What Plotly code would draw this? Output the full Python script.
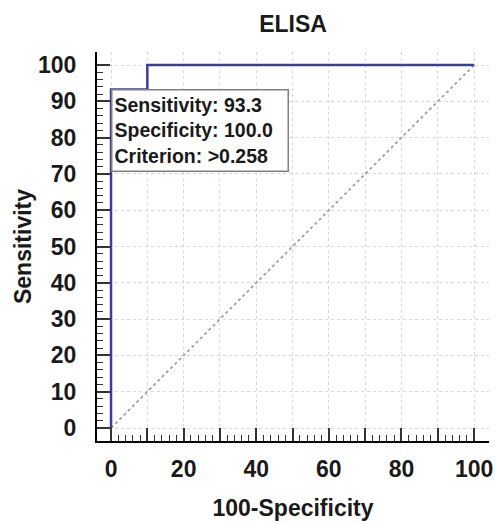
import plotly.graph_objects as go

# ROC curve data (100-Specificity vs Sensitivity)
fpr = [0, 0, 10, 10, 100]
tpr = [0, 93.3, 93.3, 100, 100]
ref_x = [0, 100]
ref_y = [0, 100]

x_ticks = list(range(0, 101, 10))
x_ticktext = [str(v) if v % 20 == 0 else "" for v in x_ticks]
y_ticks = list(range(0, 101, 10))
y_ticktext = [str(v) for v in y_ticks]
minor_vals = [v for v in range(0, 101, 2) if v % 10 != 0]

sensitivity = 93.3
specificity = 100.0
criterion = ">0.258"

FONT = "Liberation Sans, Arial, sans-serif"
TXT = "#1a1a1a"

fig = go.Figure()
fig.add_trace(go.Scatter(x=ref_x, y=ref_y, mode="lines",
                         line=dict(color="#a0a0a0", width=1.8, dash="dot"),
                         hoverinfo="skip", showlegend=False))
fig.add_trace(go.Scatter(x=fpr, y=tpr, mode="lines",
                         line=dict(color="#3c3c9c", width=2.5),
                         showlegend=False))

fig.add_annotation(
    x=0, y=sensitivity, xref="x", yref="y", xanchor="left", yanchor="top",
    text=(f"Sensitivity: {sensitivity:.1f}<br>Specificity: {specificity:.1f}"
          f"<br>Criterion: {criterion}"),
    showarrow=False, align="left", width=171, height=76,
    bgcolor="white", bordercolor="#808080", borderwidth=1.5, borderpad=2,
    font=dict(family=FONT, size=19.5, color=TXT, weight="bold"),
)

axis_common = dict(
    showline=True, linecolor="black", linewidth=2, mirror=False,
    ticks="inside", ticklen=13, tickwidth=1.5, tickcolor="#333",
    showgrid=True, gridcolor="#d8d8d8", griddash="dot", gridwidth=1,
    zeroline=False, automargin=False,
    tickfont=dict(family=FONT, size=23, color=TXT, weight="bold"),
    tickmode="array",
    minor=dict(tickmode="array", tickvals=minor_vals, ticks="inside",
               ticklen=6, tickwidth=1.2, tickcolor="#333", showgrid=False),
)

fig.update_xaxes(**axis_common, range=[-3.86, 104.1], tickvals=x_ticks,
                 ticktext=x_ticktext, ticklabelstandoff=6,
                 title=dict(text="100-Specificity", standoff=19,
                            font=dict(family=FONT, size=23, color=TXT,
                                      weight="bold")))
fig.update_yaxes(**axis_common, range=[-3.58, 103.6], tickvals=y_ticks,
                 ticktext=y_ticktext, ticklabelstandoff=14,
                 title=dict(text="Sensitivity", standoff=0,
                            font=dict(family=FONT, size=23, color=TXT,
                                      weight="bold")))

fig.update_layout(
    width=499, height=524,
    margin=dict(l=97, r=10, t=52, b=83),
    paper_bgcolor="white", plot_bgcolor="white",
    title=dict(text="ELISA", x=0.5, xref="paper", y=0.955, yanchor="middle",
               font=dict(family=FONT, size=23, color=TXT, weight="bold")),
)

fig.write_html("out.html", config={"displayModeBar": False},
               post_script="document.body.style.margin='0';"
                           "document.body.style.overflow='hidden';")
